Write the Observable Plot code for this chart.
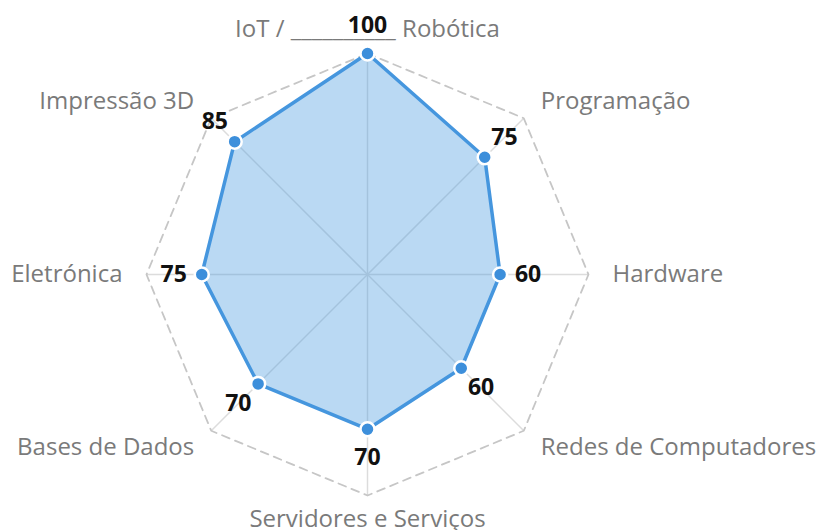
<!DOCTYPE html>
<html>
<head>
<meta charset="utf-8">
<script src="https://cdn.jsdelivr.net/npm/d3@7"></script>
<script src="https://cdn.jsdelivr.net/npm/@observablehq/plot@0.6"></script>
<style>
  html, body { margin: 0; padding: 0; background: #fff; }
  #chart svg { display: block; }
</style>
</head>
<body>
<div id="chart"></div>
<script>
const categories = ["IoT / Robótica", "Programação", "Hardware", "Redes de Computadores", "Servidores e Serviços", "Bases de Dados", "Eletrónica", "Impressão 3D"];
const displayLabels = ["IoT / __________ Robótica", "Programação", "Hardware", "Redes de Computadores", "Servidores e Serviços", "Bases de Dados", "Eletrónica", "Impressão 3D"];
const values = [100, 75, 60, 60, 70, 70, 75, 85];
const maxValue = 100;

const W = 819, H = 530;
const cx = 367, cy = 274;
const k = 2.21; // px per unit
const labelR = 245 / k;
const valueOffset = 28 / k;

const n = categories.length;
const ang = i => (i * 2 * Math.PI) / n;
const px = (r, i) => r * Math.sin(ang(i));
const py = (r, i) => r * Math.cos(ang(i));

const rows = categories.map((c, i) => ({
  cat: c, label: displayLabels[i], value: values[i], i,
  x: px(values[i], i), y: py(values[i], i),
  ox: px(maxValue, i), oy: py(maxValue, i),
  lx: px(labelR, i), ly: py(labelR, i),
  vx: px(values[i] + valueOffset, i), vy: py(values[i] + valueOffset, i),
  anchor: Math.abs(Math.sin(ang(i))) < 1e-6 ? "middle" : (Math.sin(ang(i)) > 0 ? "start" : "end")
}));

const font = "'Open Sans', 'Noto Sans', sans-serif";

const chart = Plot.plot({
  width: W, height: H,
  margin: 0,
  style: { fontFamily: font, background: "#fff", overflow: "visible" },
  x: { domain: [-cx / k, (W - cx) / k], range: [0, W], axis: null },
  y: { domain: [-(H - cy) / k, cy / k], range: [H, 0], axis: null },
  marks: [
    Plot.link(rows, { x1: 0, y1: 0, x2: "ox", y2: "oy", stroke: "#dcdcdc", strokeWidth: 1.5 }),
    Plot.line(rows, { x: "ox", y: "oy", curve: "linear-closed", stroke: "#c6c6c6", strokeWidth: 1.8, strokeDasharray: "8,6" }),
    Plot.line(rows, { x: "x", y: "y", curve: "linear-closed", fill: "#4a9ae0", fillOpacity: 0.38, stroke: "none" }),
    Plot.line(rows, { x: "x", y: "y", curve: "linear-closed", stroke: "#4596de", strokeWidth: 3.5, strokeLinejoin: "round" }),
    Plot.dot(rows, { x: "x", y: "y", r: 7, fill: "#3d8fdb", stroke: "#fff", strokeWidth: 2.5 }),
    ...["start", "middle", "end"].map(a =>
      Plot.text(rows.filter(d => d.anchor === a), { x: "lx", y: "ly", text: "label", textAnchor: a, fontSize: 24, fill: "#7a7a7a", lineAnchor: "middle" })
    ),
    Plot.text(rows, { x: "vx", y: "vy", text: d => String(d.value), fontSize: 23, fontWeight: "bold", fill: "#111", lineAnchor: "middle" })
  ]
});
document.getElementById("chart").appendChild(chart);
</script>
</body>
</html>
